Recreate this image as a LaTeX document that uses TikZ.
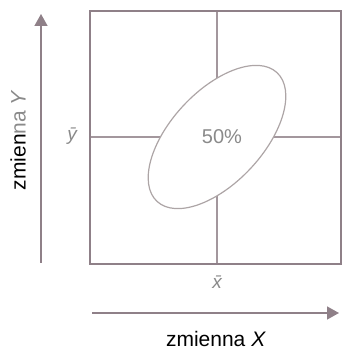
\documentclass[tikz,border=0pt]{standalone}
\usepackage{fontspec}
\setmainfont{Liberation Sans}
\usepackage{tikz}
\usetikzlibrary{arrows.meta, positioning, shapes.geometric}
\definecolor{frameGray}{HTML}{8F8088}
\definecolor{lineGray}{HTML}{A3979D}
\definecolor{ellGray}{HTML}{ADA5A6}
\definecolor{textGray}{HTML}{8A8A8A}
\colorlet{axis}{frameGray}

\begin{document}
\begin{tikzpicture}[x=0.5pt, y=0.5pt, font=\fontsize{10.5}{12}\selectfont,
    axisarrow/.style={axis, line width=0.75pt, -{Triangle[length=6pt, width=6.5pt]}},
    mark label/.style={textGray, font=\fontsize{9.5}{11}\selectfont\itshape}]
  \useasboundingbox (0,0) rectangle (343,348);
  % frame and mean lines
  \draw[lineGray, line width=0.75pt] (217,84) -- (217,337);
  \draw[lineGray, line width=0.75pt] (90,211) -- (341,211);
  \draw[ellGray, line width=0.6pt, fill=white] (217,211) ellipse [x radius=88, y radius=46, rotate=47];
  \draw[frameGray, line width=1pt] (90,84) rectangle (341,337);
  \node[textGray, font=\fontsize{10}{12}\selectfont] (pct) at (222,211) {50\%};
  \node[mark label] (ybar) at (72,212) {\=y};
  \node[mark label] (xbar) at (217,66) {\=x};
  % axes
  \coordinate (ylo) at (41,85);
  \coordinate (yhi) at (41,334);
  \coordinate (xlo) at (92,35);
  \coordinate (xhi) at (339,35);
  \draw[axisarrow] (ylo) -- (yhi);
  \draw[axisarrow] (xlo) -- (xhi);
  \node (xlab) at (216,9) {zmienna \textit{X}};
  \node[rotate=90] (ylab) at (18,208) {zmien{\color{textGray}na \textit{Y}}};
\end{tikzpicture}
\end{document}
